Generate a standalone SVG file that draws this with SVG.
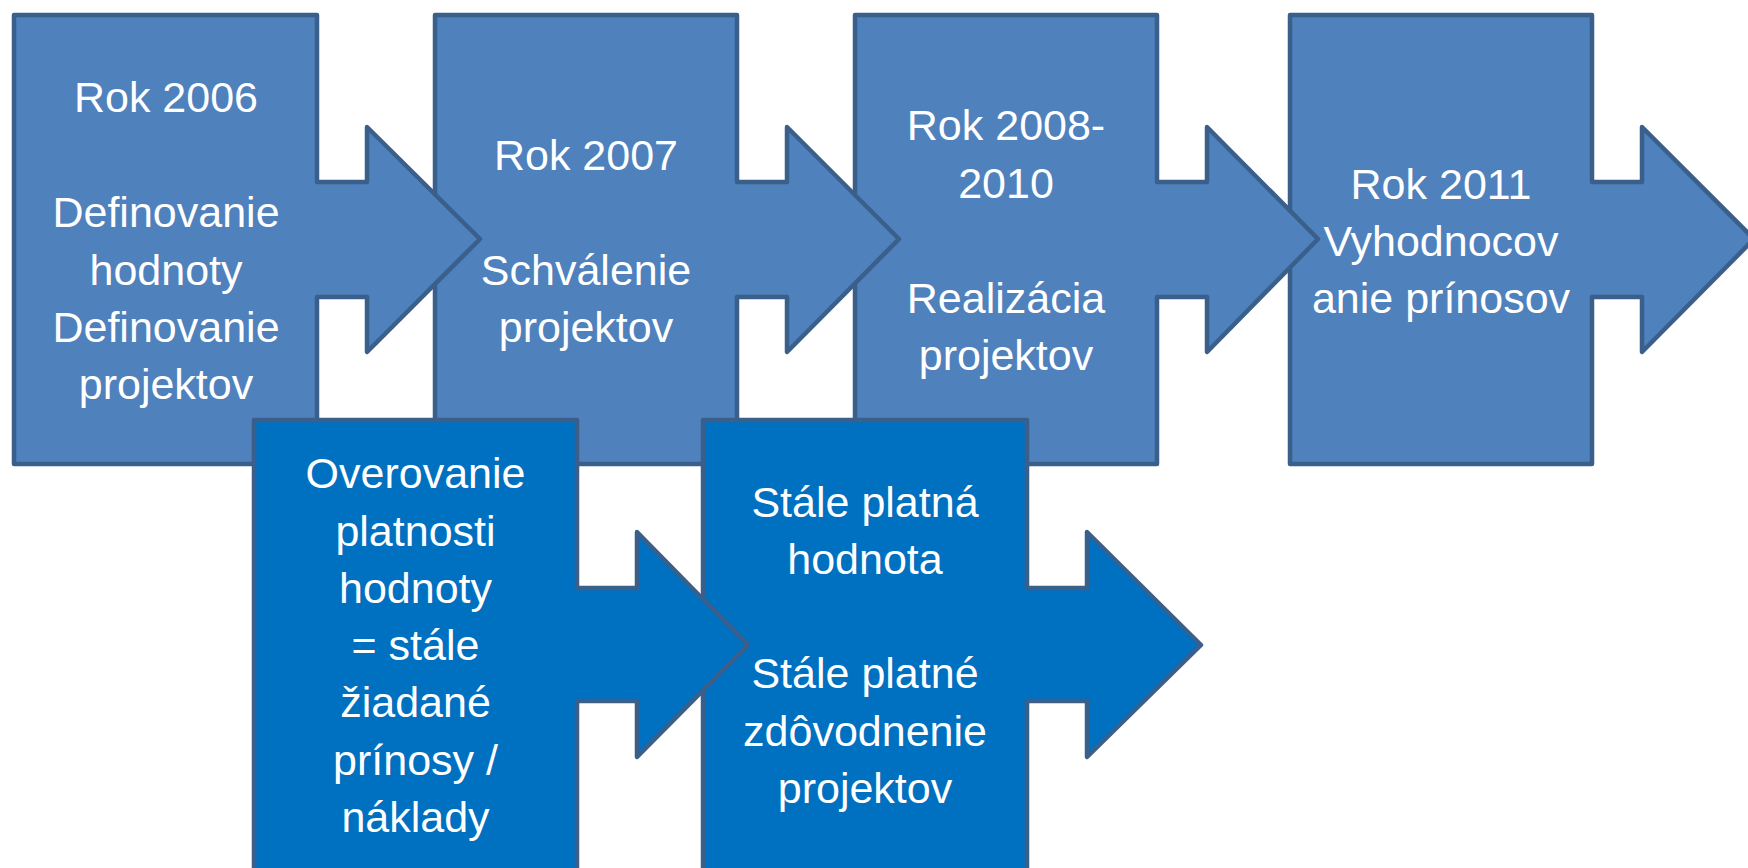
<svg xmlns="http://www.w3.org/2000/svg" width="1748" height="868" viewBox="0 0 1748 868">
<style>
.top{fill:#4F81BD;stroke:#3A5F8B;stroke-width:4.5;stroke-linejoin:round}
.bot{fill:#0070C0;stroke:#3A5F8B;stroke-width:4.5;stroke-linejoin:round}
text{font-family:"Liberation Sans",Arial,sans-serif;font-size:43px;fill:#FFFFFF;text-anchor:middle}
</style>
<rect width="1748" height="868" fill="#FFFFFF"/>
<g id="connectors"/>
<g id="node4">
<path class="top" d="M1290,15 H1592 V182 H1642 V127 L1754,239 L1642,352 V297 H1592 V464 H1290 Z"/>
<text x="1441" y="199">Rok 2011</text>
<text x="1441" y="256">Vyhodnocov</text>
<text x="1441" y="313">anie prínosov</text>
</g>
<g id="node3">
<path class="top" d="M855,15 H1157 V182 H1207 V127 L1318,239 L1207,352 V297 H1157 V464 H855 Z"/>
<text x="1006" y="140">Rok 2008-</text>
<text x="1006" y="198">2010</text>
<text x="1006" y="313">Realizácia</text>
<text x="1006" y="370">projektov</text>
</g>
<g id="node2">
<path class="top" d="M435,15 H737 V182 H787 V127 L899,239 L787,352 V297 H737 V464 H435 Z"/>
<text x="586" y="170">Rok 2007</text>
<text x="586" y="285">Schválenie</text>
<text x="586" y="342">projektov</text>
</g>
<g id="node1">
<path class="top" d="M14,15 H317 V182 H367 V127 L480,239 L367,352 V297 H317 V464 H14 Z"/>
<text x="166" y="112">Rok 2006</text>
<text x="166" y="227">Definovanie</text>
<text x="166" y="285">hodnoty</text>
<text x="166" y="342">Definovanie</text>
<text x="166" y="399">projektov</text>
</g>
<g id="node6">
<path class="bot" d="M703,420 H1027 V588 H1087 V532 L1201,645 L1087,757 V701 H1027 V880 H703 Z"/>
<text x="865" y="517">Stále platná</text>
<text x="865" y="574">hodnota</text>
<text x="865" y="688">Stále platné</text>
<text x="865" y="746">zdôvodnenie</text>
<text x="865" y="803">projektov</text>
</g>
<g id="node5">
<path class="bot" d="M254,420 H577 V588 H637 V532 L748,645 L637,757 V701 H577 V880 H254 Z"/>
<text x="415.5" y="488">Overovanie</text>
<text x="415.5" y="546">platnosti</text>
<text x="415.5" y="603">hodnoty</text>
<text x="415.5" y="660">= stále</text>
<text x="415.5" y="717">žiadané</text>
<text x="415.5" y="775">prínosy /</text>
<text x="415.5" y="832">náklady</text>
</g>
</svg>
